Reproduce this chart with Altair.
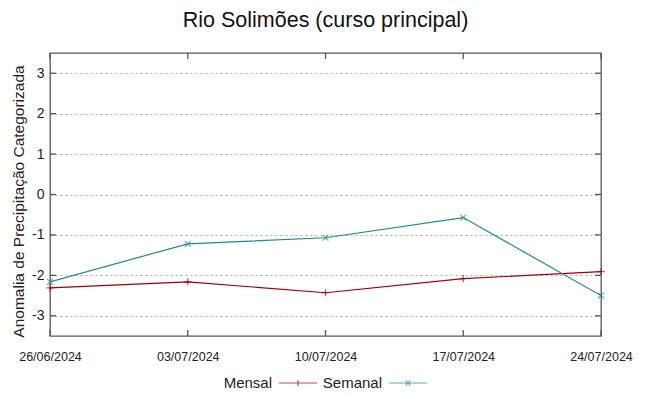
import altair as alt
import pandas as pd

dates = ["2024-06-26", "2024-07-03", "2024-07-10", "2024-07-17", "2024-07-24"]
mensal = [-2.31, -2.16, -2.43, -2.08, -1.91]
semanal = [-2.16, -1.22, -1.07, -0.57, -2.50]
series = ["Mensal", "Semanal"]
colors = ["#a00000", "#1f8a8a"]
y_ticks = [-3, -2, -1, 0, 1, 2, 3]

rows = []
for d, v in zip(dates, mensal):
    rows.append({"date": d, "value": v, "serie": "Mensal"})
for d, v in zip(dates, semanal):
    rows.append({"date": d, "value": v, "serie": "Semanal"})
df = pd.DataFrame(rows)
ytick_df = pd.DataFrame({"value": y_ticks})
xtick_df = pd.DataFrame({"date": dates})

FONT = "Liberation Sans"
W, H = 551, 283
TICK = 6
FRAME = "#555555"

x_enc = alt.X(
    "date:T",
    scale=alt.Scale(domain=[dates[0], dates[-1]], nice=False),
    axis=alt.Axis(
        values=dates,
        format="%d/%m/%Y",
        title=None,
        grid=False,
        labelFont="Liberation Sans Narrow, Liberation Sans",
        labelFontSize=12.5,
        labelColor="#222222",
        labelPadding=14,
        tickSize=0,
        domain=False,
        labelFlush=False,
    ),
)
y_enc = alt.Y(
    "value:Q",
    scale=alt.Scale(domain=[-3.5, 3.5], nice=False, zero=False),
    axis=alt.Axis(
        values=y_ticks,
        labelExpr="toString(datum.value)",
        title="Anomalia de Precipitação Categorizada",
        titleFont=FONT,
        titleFontSize=15.5,
        titleFontWeight="normal",
        titleColor="#222222",
        titlePadding=5,
        titleY=148,
        labelFont=FONT,
        labelFontSize=14,
        labelColor="#222222",
        labelPadding=6,
        tickSize=0,
        domain=False,
        grid=True,
        gridColor="#aaaaaa",
        gridDash=[2, 3],
        gridWidth=1,
    ),
)
color_enc = alt.Color("serie:N", scale=alt.Scale(domain=series, range=colors))

lines = alt.Chart(df).mark_line(strokeWidth=1.2, clip=True).encode(
    x=x_enc, y=y_enc, color=color_enc
)

plus_pts = alt.Chart(df).transform_filter(alt.datum.serie == "Mensal").mark_point(
    shape="M-1,0H1M0,-1V1", size=50, strokeWidth=1.2, filled=False, clip=False
).encode(x="date:T", y="value:Q", color=color_enc)

x_pts = alt.Chart(df).transform_filter(alt.datum.serie == "Semanal").mark_point(
    shape="M-1,-1L1,1M-1,1L1,-1", size=34, strokeWidth=1.2, filled=False, clip=False
).encode(x="date:T", y="value:Q", color=color_enc)

# inward tick marks (left, right, bottom, top)
ytick_left = alt.Chart(ytick_df).mark_rule(color=FRAME, strokeWidth=1.3).encode(
    y="value:Q", x=alt.value(0), x2=alt.value(TICK)
)
ytick_right = alt.Chart(ytick_df).mark_rule(color=FRAME, strokeWidth=1.3).encode(
    y="value:Q", x=alt.value(W - TICK), x2=alt.value(W)
)
xtick_bottom = alt.Chart(xtick_df).mark_rule(color=FRAME, strokeWidth=1.3).encode(
    x="date:T", y=alt.value(H - TICK), y2=alt.value(H)
)
xtick_top = alt.Chart(xtick_df).mark_rule(color=FRAME, strokeWidth=1.3).encode(
    x="date:T", y=alt.value(0), y2=alt.value(TICK)
)

legend_layer = (
    alt.Chart(df)
    .transform_calculate(hidden="datum.value + 100")
    .mark_point(filled=False, strokeWidth=1.2, clip=True)
    .encode(
        x="date:T",
        y="hidden:Q",
        color=color_enc,
        shape=alt.Shape(
            "serie:N",
            scale=alt.Scale(
                domain=series,
                range=[
                    "M-1,0H1M0,-0.16V0.16",
                    "M-1,0H1M-0.12,-0.12L0.12,0.12M-0.12,0.12L0.12,-0.12",
                ],
            ),
        ),
    )
)

chart = (
    alt.layer(
        lines, plus_pts, x_pts,
        ytick_left, ytick_right, xtick_bottom, xtick_top,
        legend_layer,
    )
    .properties(
        width=W,
        height=H,
        title=alt.Title(
            "Rio Solimões (curso principal)",
            font=FONT,
            fontSize=21.5,
            fontWeight="normal",
            color="#111111",
            anchor="middle",
            offset=21,
        ),
        autosize=alt.AutoSizeParams(type="none"),
        padding={"left": 42, "top": 45, "right": 40, "bottom": 58},
    )
    .configure_view(stroke=FRAME, strokeWidth=1.3)
    .configure_legend(
        title=None,
        orient="none",
        legendX=228,
        legendY=310,
        direction="horizontal",
        labelFont=FONT,
        labelFontSize=15,
        labelColor="#222222",
        symbolSize=1444,
        symbolStrokeWidth=1.2,
        labelAlign="right",
        labelOffset={"expr": "-46"},
        columnPadding=2,
        symbolOffset=0,
    )
)

chart.save("out.html", embed_options={"renderer": "svg", "actions": False})
